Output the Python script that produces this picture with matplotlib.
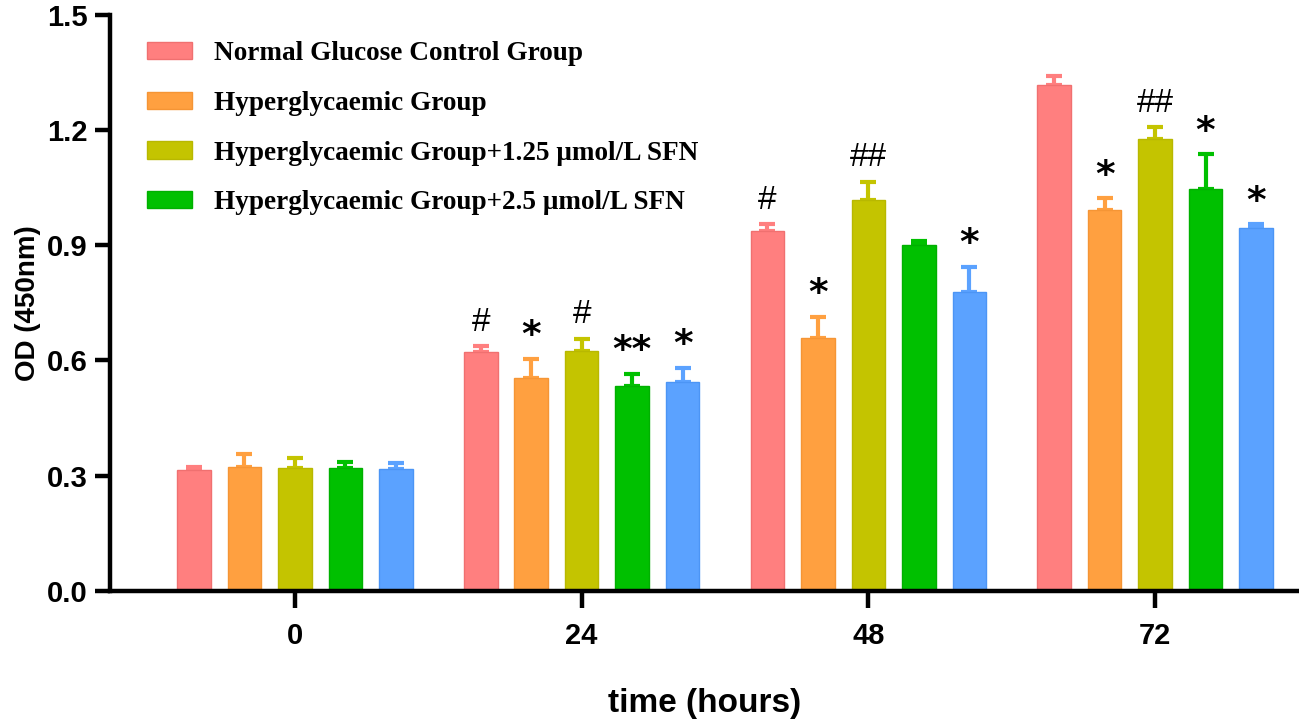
import numpy as np
import matplotlib
matplotlib.use("Agg")
import matplotlib.pyplot as plt

# ── Data ──────────────────────────────────────────────────────────────────────
times = ["0", "24", "48", "72"]
series_labels = [
    "Normal Glucose Control Group",
    "Hyperglycaemic Group",
    "Hyperglycaemic Group+1.25 \u03bcmol/L SFN",
    "Hyperglycaemic Group+2.5 \u03bcmol/L SFN",
    "_nolegend_",
]
means = [
    [0.314, 0.621, 0.937, 1.318],   # normal glucose
    [0.322, 0.554, 0.658, 0.992],   # hyperglycaemic
    [0.321, 0.625, 1.017, 1.176],   # HG + 1.25 SFN
    [0.319, 0.533, 0.900, 1.046],   # HG + 2.5 SFN
    [0.317, 0.545, 0.779, 0.946],   # blue (unlabelled)
]
errors = [
    [0.008, 0.016, 0.017, 0.022],
    [0.035, 0.050, 0.055, 0.030],
    [0.026, 0.032, 0.048, 0.031],
    [0.016, 0.032, 0.012, 0.091],
    [0.015, 0.036, 0.065, 0.008],
]
marks = [
    ["", "#", "#", ""],
    ["", "*", "*", "*"],
    ["", "#", "##", "##"],
    ["", "**", "", "*"],
    ["", "*", "*", "*"],
]

colors = ["#FF7F7F", "#FFA040", "#C4C400", "#00C000", "#5BA2FF"]
edges = ["#F07070", "#F59535", "#B8B800", "#00B000", "#4C95F5"]

# ── Figure ────────────────────────────────────────────────────────────────────
fig = plt.figure(figsize=(12.99, 7.23), dpi=100)
ax = fig.add_axes([0.0847, 0.1826, 0.9153, 0.797])

x = np.arange(len(times))
pitch = 0.176
width = 0.117

for i in range(5):
    xs = x + (i - 2) * pitch
    ax.bar(
        xs, means[i], width=width, color=colors[i], edgecolor=edges[i],
        linewidth=1.0, label=series_labels[i], zorder=2,
        yerr=[np.zeros(4), errors[i]],
        error_kw=dict(ecolor=colors[i], elinewidth=3, capsize=6,
                      capthick=3, zorder=1),
    )
    for j in range(4):
        m = marks[i][j]
        if not m:
            continue
        top = means[i][j] + errors[i][j]
        if "#" in m:
            ax.text(xs[j], top + 0.022, m, ha="center", va="bottom",
                    fontsize=24, family="Liberation Sans", color="black")
        else:
            ax.text(xs[j], top + 0.012, m, ha="center", va="bottom",
                    fontsize=27, fontweight="bold", family="DejaVu Sans",
                    color="black")

# ── Axes styling ──────────────────────────────────────────────────────────────
ax.set_xlim(-0.645, 3.502)
ax.set_ylim(0, 1.5)
ax.set_yticks([0.0, 0.3, 0.6, 0.9, 1.2, 1.5])
ax.set_yticklabels(["0.0", "0.3", "0.6", "0.9", "1.2", "1.5"])
ax.set_xticks(x)
ax.set_xticklabels(times)

for side in ["top", "right"]:
    ax.spines[side].set_visible(False)
for side in ["left", "bottom"]:
    ax.spines[side].set_linewidth(3.2)

ax.tick_params(axis="both", width=3.2, length=11, direction="out",
               labelsize=21, pad=5)
ax.tick_params(axis="x", length=12, pad=10)
for lab in ax.get_xticklabels() + ax.get_yticklabels():
    lab.set_fontweight("bold")
    lab.set_family("Liberation Sans")

ax.set_ylabel("OD (450nm)", fontsize=20, fontweight="bold",
              family="Liberation Sans", labelpad=4)
ax.set_xlabel("time (hours)", fontsize=24, fontweight="bold",
              family="Liberation Sans", labelpad=28)

handles, labels = ax.get_legend_handles_labels()
ax.legend(
    handles[:4], labels[:4], loc="upper left",
    bbox_to_anchor=(0.094, 0.977), bbox_transform=fig.transFigure,
    frameon=False, handlelength=1.65, handleheight=0.6, handletextpad=0.82,
    labelspacing=0.91,
    prop=dict(family="Liberation Serif", weight="bold", size=19.6),
)

fig.savefig("out.png", dpi=100)
